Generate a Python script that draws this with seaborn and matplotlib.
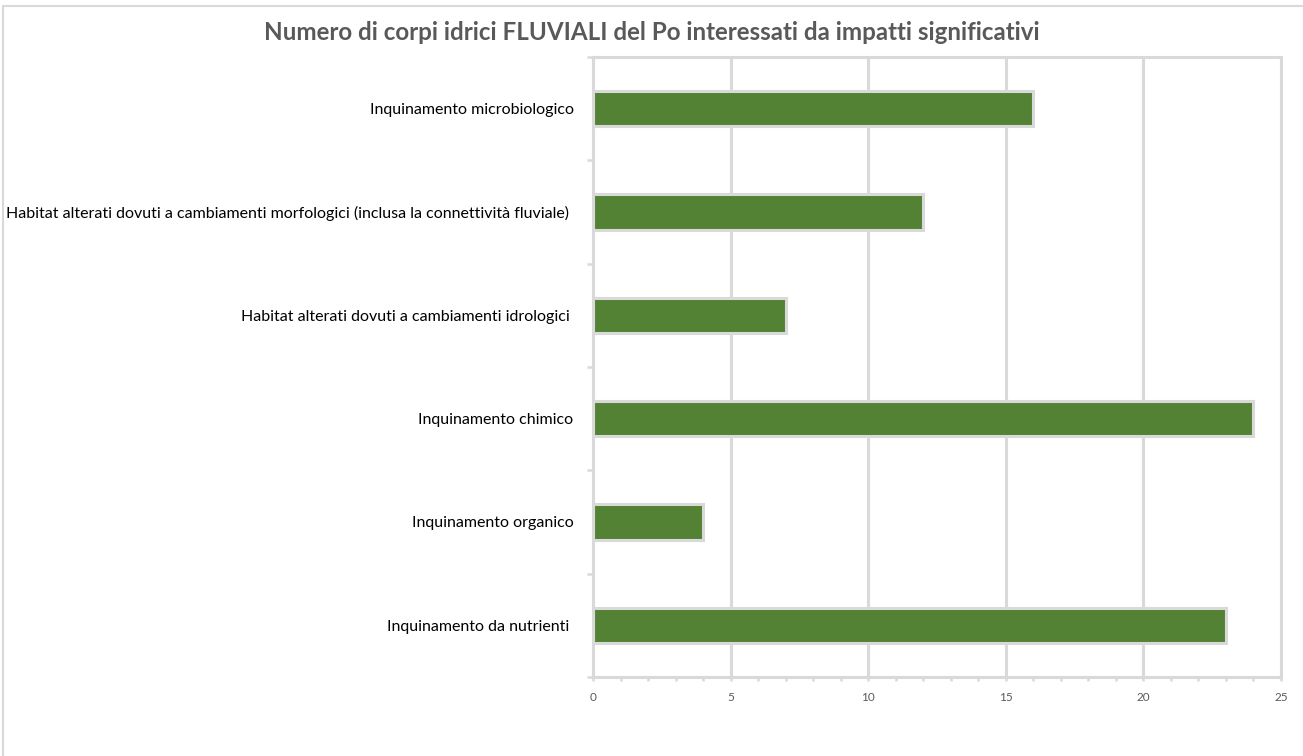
import matplotlib
matplotlib.use("Agg")
import matplotlib.pyplot as plt
from matplotlib.patches import Rectangle
from matplotlib.ticker import MultipleLocator, FixedLocator
import seaborn as sns
import pandas as pd

categories = [
    "Inquinamento microbiologico",
    "Habitat alterati dovuti a cambiamenti morfologici (inclusa la connettività fluviale) ",
    "Habitat alterati dovuti a cambiamenti idrologici ",
    "Inquinamento chimico",
    "Inquinamento organico",
    "Inquinamento da nutrienti ",
]
values = [16, 12, 7, 24, 4, 23]
x_ticks = [0, 5, 10, 15, 20, 25]
title = "Numero di corpi idrici FLUVIALI del Po interessati da impatti significativi"

GRID = "#d9d9d9"
BAR = "#548235"
TXT = "#595959"

sns.set_theme(style="white")
plt.rcParams["font.family"] = ["Lato", "DejaVu Sans"]

df = pd.DataFrame({"categoria": categories, "corpi": values})

fig = plt.figure(figsize=(13.03, 7.56), dpi=100)
fig.patch.set_facecolor("white")
# outer chart frame
fig.patches.append(Rectangle((3 / 1303, -0.1), 1.2, 1 - 6 / 756 + 0.1,
                             transform=fig.transFigure, fill=False,
                             edgecolor=GRID, linewidth=1.5, zorder=0))

ax = fig.add_axes([593 / 1303, 1 - 677 / 756, (1281 - 593) / 1303, (677 - 57) / 756])

ax.xaxis.grid(True, color=GRID, linewidth=2.2)
ax.set_axisbelow(True)

sns.barplot(data=df, x="corpi", y="categoria", order=categories, orient="h",
            color=BAR, saturation=1, width=0.34, edgecolor=GRID, linewidth=2.2, ax=ax)

ax.set_xlim(0, 25)
ax.set_ylim(len(categories) - 0.5, -0.5)
ax.set_xlabel("")
ax.set_ylabel("")

for s in ax.spines.values():
    s.set_color(GRID)
    s.set_linewidth(2.2)
    s.set_visible(True)

ax.xaxis.set_major_locator(FixedLocator(x_ticks))
ax.xaxis.set_minor_locator(MultipleLocator(1))
ax.tick_params(axis="x", which="both", direction="out", length=3, width=1.8,
               color=GRID, labelsize=8.5, labelcolor=TXT, pad=8, bottom=True)

ax.yaxis.set_minor_locator(FixedLocator([i - 0.5 for i in range(len(categories) + 1)]))
ax.tick_params(axis="y", which="major", length=0, labelsize=11.5, labelcolor="black", pad=14)
ax.tick_params(axis="y", which="minor", direction="out", length=4, width=1.8,
               color=GRID, left=True)

fig.text(652 / 1303, 1 - 33 / 756, title, ha="center", va="center",
         fontsize=17.4, fontweight="bold", color=TXT)

fig.savefig("out.png", dpi=100, facecolor="white")
